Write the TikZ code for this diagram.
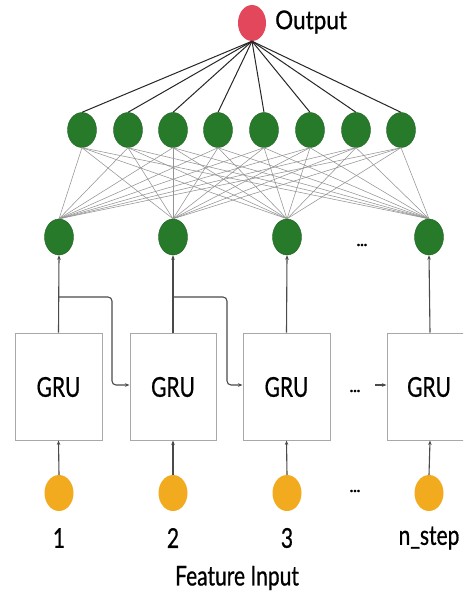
\documentclass[tikz,border=0pt]{standalone}
\usepackage{fontspec}
\setmainfont{Lato}
\newfontfamily\heavyfont[FakeBold=0.8]{Lato}
\usetikzlibrary{shapes.geometric,arrows.meta}
\definecolor{netgreen}{HTML}{267A2A}
\definecolor{netred}{HTML}{E2475C}
\definecolor{netorange}{HTML}{F2AA1E}
\definecolor{boxgray}{HTML}{A8A8A8}
\definecolor{linkgray}{HTML}{4A4A4A}
\newcommand{\stretchtxt}[2]{\scalebox{1}[#1]{#2}}
\begin{document}
\begin{tikzpicture}[x=1pt,y=-1pt,
  neuron/.style={ellipse,inner sep=0pt,minimum width=29pt,minimum height=35pt},
  hid/.style={neuron,fill=netgreen,draw=netgreen!80!black,line width=0.4pt},
  outn/.style={neuron,fill=netred,minimum width=28pt,minimum height=36pt},
  inn/.style={neuron,fill=netorange},
  grubox/.style={draw=boxgray,line width=1pt,inner sep=0pt},
  dense/.style={draw=black!42,line width=0.55pt},
  outlink/.style={draw=black!85,line width=1pt},
  link/.style={draw=linkgray,line width=1.1pt,-{Stealth[length=4.5pt,width=3.5pt]}},
  lbl/.style={inner sep=0pt,font=\heavyfont\fontsize{21}{24}\selectfont},
  dotsn/.style={inner sep=0pt,font=\heavyfont\fontsize{15}{16}\selectfont\bfseries}
]
\useasboundingbox (0,0) rectangle (463,594);
\clip (0,0) rectangle (463,594);
\fill[white] (0,0) rectangle (463,594);

% output
\node[outn] (out) at (252,23) {};
\node[anchor=west,inner sep=0pt,font=\heavyfont\fontsize{22.5}{24}\selectfont] (outlbl) at (275,22) {\stretchtxt{1.15}{Output}};

% upper hidden layer
\foreach \i/\x in {1/82,2/128,3/173,4/218,5/264,6/310,7/356,8/401}{
  \node[hid] (u\i) at (\x,130) {};
}
% lower layer
\foreach \j/\x in {1/59,2/173,3/287,4/429}{
  \node[hid,minimum height=36pt] (l\j) at (\x,237) {};
}
\node[dotsn] (ldots) at (362,245) {...};

% dense connections
\foreach \i in {1,...,8}{
  \foreach \j in {1,...,4}{
    \draw[dense] (u\i.south) -- (l\j.north);
  }
  \draw[outlink] (out.south) -- (u\i.north);
}

% GRU boxes
\node[grubox,minimum width=87pt,minimum height=107pt] (b1) at (58.5,386.5) {};
\node[grubox,minimum width=86pt,minimum height=107pt] (b2) at (173,386.5) {};
\node[grubox,minimum width=87pt,minimum height=107pt] (b3) at (286.5,386.5) {};
\node[grubox,minimum width=86pt,minimum height=107pt] (b4) at (430,386.5) {};
\foreach \j/\x in {1/58.5,2/173,3/286.5,4/429}{
  \node[lbl] (g\j) at (\x,387) {\stretchtxt{1.3}{GRU}};
}

% box to lower layer
\foreach \j in {1,...,4}{
  \draw[link] (b\j.north) -- (l\j.south);
}

% recurrent links
\coordinate (r1s) at (59,297);
\coordinate (r1t) at (130,385);
\draw[link,rounded corners=4pt] (r1s) -- (112,297) -- (112,385) -- (b2.west |- r1t);
\coordinate (r2s) at (173,297);
\coordinate (r2t) at (243,385);
\draw[link,rounded corners=4pt] (r2s) -- (227,297) -- (227,385) -- (b3.west |- r2t);
\node[dotsn] (gdots) at (355,391) {...};
\coordinate (r3s) at (375,385);
\draw[link] (r3s) -- (b4.west |- r3s);

% inputs
\foreach \j/\x/\t in {1/59/1,2/173/2,3/287/3,4/429/n\_step}{
  \node[inn,minimum height=36pt] (i\j) at (\x,493) {};
  \draw[link] (i\j.north) -- (b\j.south);
  \node[lbl] (t\j) at (\x,538) {\stretchtxt{1.3}{\t}};
}
\node[dotsn] (idots) at (355,491) {...};
\node[lbl] (feat) at (237,578) {\stretchtxt{1.3}{Feature Input}};
\end{tikzpicture}
\end{document}
